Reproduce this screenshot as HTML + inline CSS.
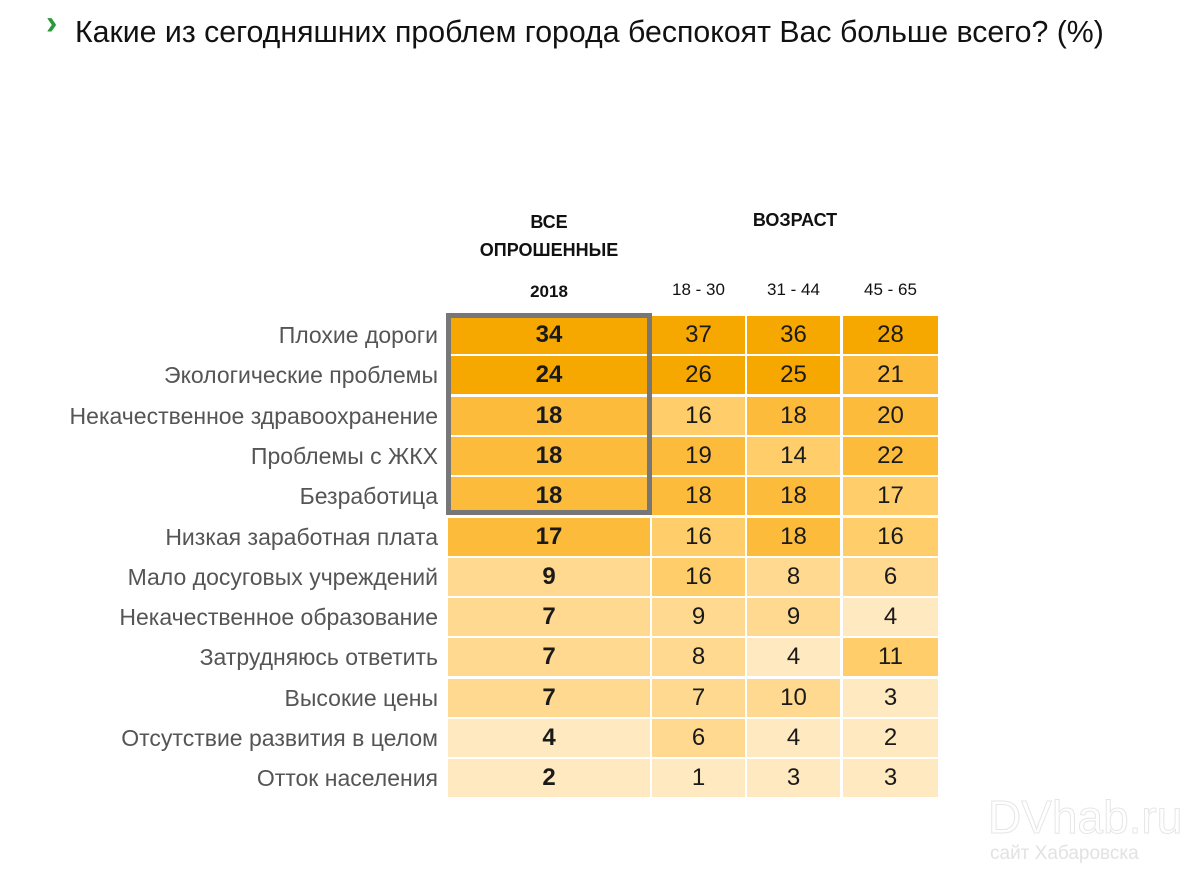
<!DOCTYPE html>
<html><head><meta charset="utf-8"><style>
body{margin:0;width:1200px;height:877px;background:#fff;position:relative;overflow:hidden;font-family:"Liberation Sans",sans-serif}
.t{position:absolute;white-space:nowrap}
.c{position:absolute;display:flex;align-items:center;justify-content:center;font-size:24px;color:#1a1a1a}
.l{position:absolute;right:762px;font-size:23px;color:#555;text-align:right;white-space:nowrap}
.h{position:absolute;font-size:18px;color:#111;text-align:center;white-space:nowrap}
</style></head><body>
<div class="t" style="left:46px;top:4px;font-size:34px;color:#2a9a3a;font-weight:bold">›</div>
<div class="t" style="left:75px;top:14px;font-size:31px;color:#111;transform:scaleX(0.977);transform-origin:left">Какие из сегодняшних проблем города беспокоят Вас больше всего? (%)</div>
<div class="h" style="left:448px;width:202px;top:208px;font-weight:bold;line-height:28px">ВСЕ<br>ОПРОШЕННЫЕ</div>
<div class="h" style="left:448px;width:202px;top:282px;font-weight:bold;font-size:17px">2018</div>
<div class="h" style="left:652px;width:286px;top:210px;font-weight:bold">ВОЗРАСТ</div>
<div class="h" style="left:652px;width:93px;top:280px;font-size:17px">18 - 30</div>
<div class="h" style="left:747px;width:93px;top:280px;font-size:17px">31 - 44</div>
<div class="h" style="left:843px;width:95px;top:280px;font-size:17px">45 - 65</div>
<div id="g"></div>
<script>
var C={A:'#F6A800',B:'#FDBB3C',C:'#FFCD6A',D:'#FFD990',E:'#FFE9C0'};
var rows=[
["Плохие дороги",[34,37,36,28],"AAAA"],
["Экологические проблемы",[24,26,25,21],"AAAB"],
["Некачественное здравоохранение",[18,16,18,20],"BCBB"],
["Проблемы с ЖКХ",[18,19,14,22],"BBCB"],
["Безработица",[18,18,18,17],"BBBC"],
["Низкая заработная плата",[17,16,18,16],"BCBC"],
["Мало досуговых учреждений",[9,16,8,6],"DCDD"],
["Некачественное образование",[7,9,9,4],"DDDE"],
["Затрудняюсь ответить",[7,8,4,11],"DDEC"],
["Высокие цены",[7,7,10,3],"DDDE"],
["Отсутствие развития в целом",[4,6,4,2],"EDEE"],
["Отток населения",[2,1,3,3],"EEEE"]];
var cols=[[448,202],[652,93],[747,93],[843,95]];
var h='';
rows.forEach(function(r,i){
 var top=315+i*40.3;
 h+='<div class="l" style="top:'+(top+7)+'px">'+r[0]+'</div>';
 cols.forEach(function(c,j){
  h+='<div class="c" style="left:'+c[0]+'px;width:'+c[1]+'px;top:'+(top+1)+'px;height:38px;background:'+C[r[2][j]]+(j==0?';font-weight:bold':'')+'">'+r[1][j]+'</div>';
 });
});
h+='<div style="position:absolute;left:446px;top:313px;width:196px;height:192px;border:5px solid #777"></div>';
document.getElementById('g').innerHTML=h;
</script>
<div class="t" style="left:988px;top:790px;font-size:46px;color:#fff;-webkit-text-stroke:1px #e6e6e6">DVhab.ru</div>
<div class="t" style="left:990px;top:843px;font-size:19px;color:#e2e2e2">сайт Хабаровска</div>
</body></html>
